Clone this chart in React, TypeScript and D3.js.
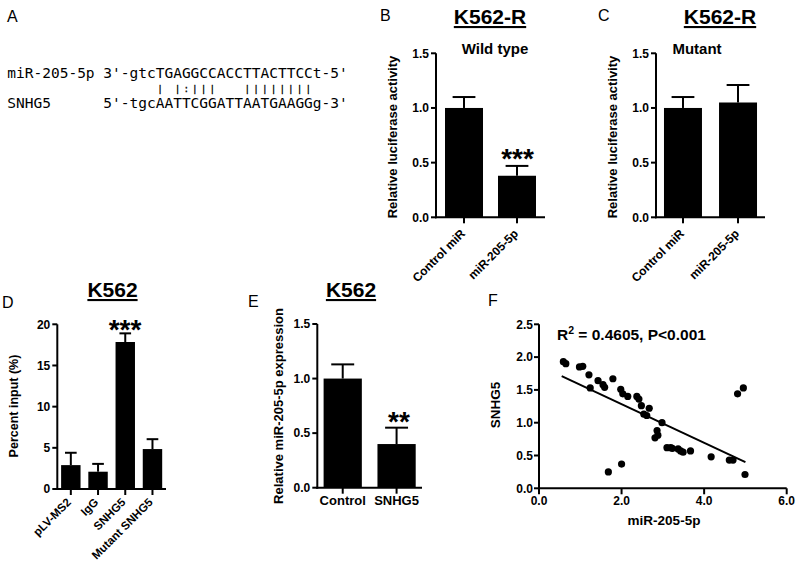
import React from 'react';
import * as d3 from 'd3';

const FONT = "'Liberation Sans', Arial, Helvetica, sans-serif";
const MONO = "'DejaVu Sans Mono', monospace";

// Panel A: sequence alignment
const A_LINE_MIR = "miR-205-5p 3'-gtcTGAGGCCACCTTACTTCCt-5'";
const A_LINE_MATCH = "                 | |:|||   ||||||||";
const A_LINE_SNHG = "SNHG5      5'-tgcAATTCGGATTAATGAAGGg-3'";

// Panel B: K562-R Wild type
const B_CATS = ['Control miR', 'miR-205-5p'];
const B_VALUES = [1.0, 0.38];
const B_ERRS = [0.1, 0.09];
// Panel C: K562-R Mutant
const C_CATS = ['Control miR', 'miR-205-5p'];
const C_VALUES = [1.0, 1.05];
const C_ERRS = [0.1, 0.16];
const BC_TICKS = [0, 0.5, 1.0, 1.5];

// Panel D: K562 percent input
const D_CATS = ['pLV-MS2', 'IgG', 'SNHG5', 'Mutant SNHG5'];
const D_VALUES = [2.9, 2.1, 17.85, 4.85];
const D_ERRS = [1.5, 0.95, 1.05, 1.2];
const D_TICKS = [0, 5, 10, 15, 20];

// Panel E: K562 relative miR-205-5p expression
const E_CATS = ['Control', 'SNHG5'];
const E_VALUES = [1.0, 0.4];
const E_ERRS = [0.13, 0.15];
const E_TICKS = [0, 0.5, 1.0, 1.5];

// Panel F: scatter
const F_X = [0.59, 0.65, 0.98, 1.06, 1.21, 1.24, 1.43, 1.55, 1.59, 1.79, 1.98, 2.03, 2.15, 2.37, 2.42, 2.48, 2.54, 2.61, 2.67, 2.98, 2.86, 2.88, 2.81, 3.1, 3.19, 3.23, 3.37, 3.43, 3.49, 3.67, 4.17, 4.61, 4.7, 4.81, 4.95, 4.99, 1.68, 2.0];
const F_Y = [1.93, 1.9, 1.85, 1.86, 1.73, 1.53, 1.64, 1.58, 1.54, 1.67, 1.51, 1.44, 1.4, 1.4, 1.36, 1.26, 1.13, 1.11, 1.22, 1.0, 0.88, 0.81, 0.77, 0.62, 0.62, 0.61, 0.6, 0.57, 0.55, 0.57, 0.48, 0.43, 0.43, 1.44, 1.53, 0.21, 0.25, 0.37];
const F_FIT_X = [0.55, 5.0];
const F_FIT_Y = [1.71, 0.4];
const F_XTICKS = [0, 2, 4, 6];
const F_YTICKS = [0, 0.5, 1.0, 1.5, 2.0, 2.5];

type BarProps = {
  cats: string[];
  values: number[];
  errs: number[];
  x0: number;
  x1: number;
  yTop: number;
  yBottom: number;
  maxV: number;
  ticks: number[];
  fmt: (v: number) => string;
  pi: number;
  po: number;
  rotate: boolean;
  labelSize: number;
  labelDx: number;
  labelDy: number;
};

function BarPanel(p: BarProps) {
  const x = d3.scaleBand<string>().domain(p.cats).range([p.x0, p.x1]).paddingInner(p.pi).paddingOuter(p.po);
  const y = d3.scaleLinear().domain([0, p.maxV]).range([p.yBottom, p.yTop]);
  const bw = x.bandwidth();
  const cap = bw * 0.6;
  return (
    <g>
      {p.cats.map((c, i) => {
        const cx = (x(c) as number) + bw / 2;
        const top = y(p.values[i] + p.errs[i]);
        return (
          <g key={c}>
            <line x1={cx} x2={cx} y1={y(p.values[i])} y2={top} stroke="#000" strokeWidth={2} />
            <line x1={cx - cap / 2} x2={cx + cap / 2} y1={top} y2={top} stroke="#000" strokeWidth={2} />
            <rect x={x(c)} y={y(p.values[i])} width={bw} height={y(0) - y(p.values[i])} fill="#000" />
          </g>
        );
      })}
      <line x1={p.x0} x2={p.x0} y1={y(0) + 1} y2={y(p.maxV)} stroke="#000" strokeWidth={2} />
      <line x1={p.x0 - 1} x2={p.x1} y1={y(0)} y2={y(0)} stroke="#000" strokeWidth={2} />
      {p.ticks.map((t) => (
        <g key={t}>
          <line x1={p.x0 - 5} x2={p.x0} y1={y(t)} y2={y(t)} stroke="#000" strokeWidth={2} />
          <text x={p.x0 - 7} y={y(t)} dy="0.36em" textAnchor="end" fontFamily={FONT} fontWeight="bold" fontSize={12}>
            {p.fmt(t)}
          </text>
        </g>
      ))}
      {p.cats.map((c) => {
        const cx = (x(c) as number) + bw / 2;
        return (
          <g key={'t' + c}>
            <line x1={cx} x2={cx} y1={y(0)} y2={y(0) + 6} stroke="#000" strokeWidth={2} />
            {p.rotate ? (
              <text
                transform={`translate(${cx + p.labelDx},${y(0) + p.labelDy}) rotate(-45)`}
                textAnchor="end"
                fontFamily={FONT}
                fontWeight="bold"
                fontSize={p.labelSize}
              >
                {c}
              </text>
            ) : (
              <text x={cx} y={y(0) + p.labelDy} textAnchor="middle" fontFamily={FONT} fontWeight="bold" fontSize={p.labelSize}>
                {c}
              </text>
            )}
          </g>
        );
      })}
    </g>
  );
}

function Title({ x, y, text }: { x: number; y: number; text: string }) {
  return (
    <text x={x} y={y} textAnchor="middle" fontFamily={FONT} fontWeight="bold" fontSize={21} style={{ textDecoration: 'underline' }}>
      {text}
    </text>
  );
}

function Letter({ x, y, text }: { x: number; y: number; text: string }) {
  return (
    <text x={x} y={y} fontFamily={FONT} fontSize={16}>
      {text}
    </text>
  );
}

function YLabel({ x, y, text, size }: { x: number; y: number; text: string; size: number }) {
  return (
    <text transform={`translate(${x},${y}) rotate(-90)`} dy="0.36em" textAnchor="middle" fontFamily={FONT} fontWeight="bold" fontSize={size}>
      {text}
    </text>
  );
}

function Stars({ x, y, text }: { x: number; y: number; text: string }) {
  return (
    <text x={x} y={y} textAnchor="middle" fontFamily={FONT} fontWeight="bold" fontSize={28}>
      {text}
    </text>
  );
}

function Scatter() {
  const x = d3.scaleLinear().domain([0, 6]).range([539, 786.7]);
  const y = d3.scaleLinear().domain([0, 2.5]).range([488.3, 324.3]);
  const line = d3.line<number>().x((d) => x(d)).y((_, i) => y(F_FIT_Y[i]));
  return (
    <g>
      {F_X.map((v, i) => (
        <circle key={i} cx={x(v)} cy={y(F_Y[i])} r={3.6} fill="#000" />
      ))}
      <path d={line(F_FIT_X) || ''} stroke="#000" strokeWidth={2} fill="none" />
      <line x1={x(0)} x2={x(0)} y1={y(0) + 1} y2={y(2.5)} stroke="#000" strokeWidth={2} />
      <line x1={x(0) - 1} x2={x(6)} y1={y(0)} y2={y(0)} stroke="#000" strokeWidth={2} />
      {F_YTICKS.map((t) => (
        <g key={'y' + t}>
          <line x1={x(0) - 5} x2={x(0)} y1={y(t)} y2={y(t)} stroke="#000" strokeWidth={2} />
          <text x={x(0) - 6} y={y(t)} dy="0.36em" textAnchor="end" fontFamily={FONT} fontWeight="bold" fontSize={12}>
            {d3.format('.1f')(t)}
          </text>
        </g>
      ))}
      {F_XTICKS.map((t) => (
        <g key={'x' + t}>
          <line x1={x(t)} x2={x(t)} y1={y(0)} y2={y(0) + 6} stroke="#000" strokeWidth={2} />
          <text x={x(t)} y={y(0) + 17} textAnchor="middle" fontFamily={FONT} fontWeight="bold" fontSize={12}>
            {d3.format('.1f')(t)}
          </text>
        </g>
      ))}
      <text x={557} y={340} fontFamily={FONT} fontWeight="bold" fontSize={15.5}>
        R<tspan dy={-6} fontSize={10.5}>2</tspan>
        <tspan dy={6}> = 0.4605, P&lt;0.001</tspan>
      </text>
      <text x={664} y={525} textAnchor="middle" fontFamily={FONT} fontWeight="bold" fontSize={13.5}>
        miR-205-5p
      </text>
      <YLabel x={495} y={405} text="SNHG5" size={13.5} />
    </g>
  );
}

export default function App() {
  const f1 = (v: number) => d3.format('.1f')(v);
  const f0 = (v: number) => String(v);
  return (
    <svg width={800} height={570} style={{ position: 'absolute', left: 0, top: 0, background: '#fff' }}>
      <rect width={800} height={570} fill="#fff" />
      {/* Panel A */}
      <Letter x={7} y={22} text="A" />
      <text x={7.3} y={77.5} fontFamily={MONO} fontSize={14.5} style={{ whiteSpace: 'pre' }}>
        {A_LINE_MIR}
      </text>
      <text x={9.1} y={92} fontFamily={MONO} fontSize={8.5} letterSpacing={3.61} fill="#000" stroke="#000" strokeWidth={0.35} style={{ whiteSpace: 'pre' }}>
        {A_LINE_MATCH}
      </text>
      <text x={7.3} y={107.7} fontFamily={MONO} fontSize={14.5} style={{ whiteSpace: 'pre' }}>
        {A_LINE_SNHG}
      </text>

      {/* Panel B */}
      <Letter x={380} y={21} text="B" />
      <Title x={490} y={24} text="K562-R" />
      <text x={495} y={54} textAnchor="middle" fontFamily={FONT} fontWeight="bold" fontSize={15}>
        Wild type
      </text>
      <YLabel x={392} y={137} text="Relative luciferase activity" size={13} />
      <BarPanel cats={B_CATS} values={B_VALUES} errs={B_ERRS} x0={436} x1={545} yTop={53.3} yBottom={217.3} maxV={1.5} ticks={BC_TICKS} fmt={f1} pi={0.283} po={0.17} rotate={true} labelSize={12} labelDx={2} labelDy={17} />
      <Stars x={517.5} y={168} text="***" />

      {/* Panel C */}
      <Letter x={598} y={21} text="C" />
      <Title x={720} y={24} text="K562-R" />
      <text x={697} y={54} textAnchor="middle" fontFamily={FONT} fontWeight="bold" fontSize={15}>
        Mutant
      </text>
      <YLabel x={612} y={137} text="Relative luciferase activity" size={13} />
      <BarPanel cats={C_CATS} values={C_VALUES} errs={C_ERRS} x0={656} x1={765} yTop={53.3} yBottom={217.3} maxV={1.5} ticks={BC_TICKS} fmt={f1} pi={0.31} po={0.145} rotate={true} labelSize={12} labelDx={2} labelDy={17} />

      {/* Panel D */}
      <Letter x={2} y={308} text="D" />
      <Title x={112.5} y={297} text="K562" />
      <YLabel x={13} y={406} text="Percent input (%)" size={12.5} />
      <BarPanel cats={D_CATS} values={D_VALUES} errs={D_ERRS} x0={57.3} x1={166} yTop={324.3} yBottom={489} maxV={20} ticks={D_TICKS} fmt={f0} pi={0.286} po={0.14} rotate={true} labelSize={11.5} labelDx={1} labelDy={14} />
      <Stars x={125} y={339} text="***" />

      {/* Panel E */}
      <Letter x={248} y={307} text="E" />
      <Title x={351} y={297} text="K562" />
      <YLabel x={278} y={406} text="Relative miR-205-5p expression" size={13} />
      <BarPanel cats={E_CATS} values={E_VALUES} errs={E_ERRS} x0={317.3} x1={422} yTop={324} yBottom={487.7} maxV={1.5} ticks={E_TICKS} fmt={f1} pi={0.29} po={0.117} rotate={false} labelSize={13} labelDx={0} labelDy={17} />
      <Stars x={399} y={431} text="**" />

      {/* Panel F */}
      <Letter x={488} y={306} text="F" />
      <Scatter />
    </svg>
  );
}
